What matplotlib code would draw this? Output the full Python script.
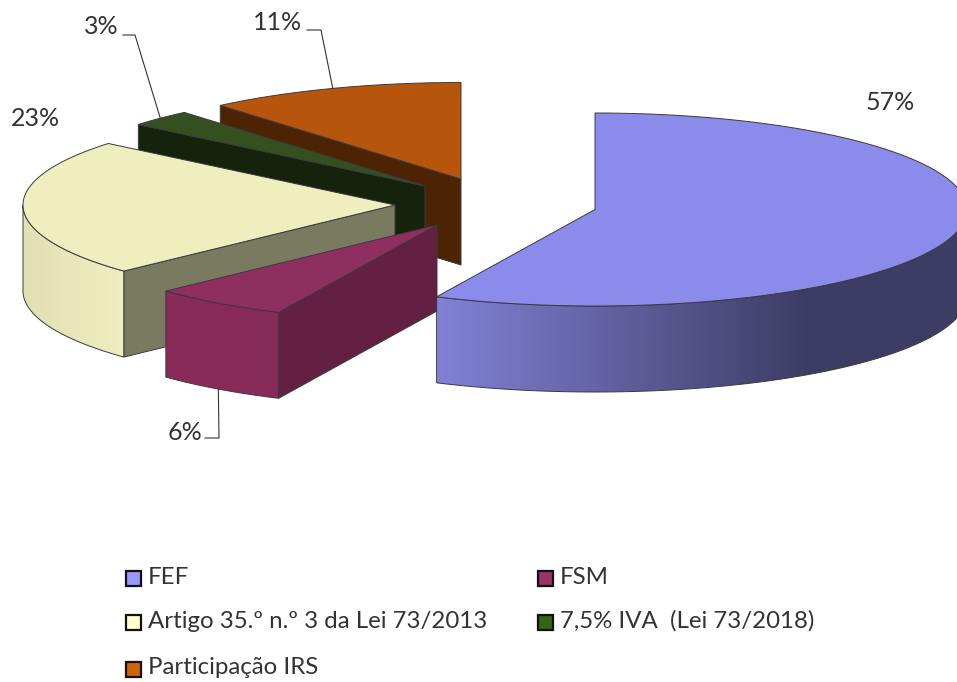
import numpy as np
import matplotlib
matplotlib.use('Agg')
import matplotlib.pyplot as plt
from matplotlib.patches import Polygon, Rectangle
from matplotlib.colors import LinearSegmentedColormap

labels = ['FEF', 'FSM', 'Artigo 35.º n.º 3 da Lei 73/2013', '7,5% IVA  (Lei 73/2018)', 'Participação IRS']
# labels show these rounded to whole percents
values = [57, 6, 23, 2.8, 11.2]

top_colors = ['#8b8beb', '#8f2f5f', '#eeeebf', '#35501f', '#b8550c']
legend_colors = ['#9999ff', '#993366', '#ffffcc', '#336614', '#cc6600']
radial_colors = ['#3c3c64', '#632042', '#7a7a60', '#15220c', '#4c2404']
# colours of the outer wall: left end, right end
wall_colors = [('#8181d6', '#3c3c64'), ('#8a2c5a', '#862a57'), ('#e0e0b3', '#eeeebf'),
               ('#15220c', '#15220c'), ('#4c2404', '#4c2404')]

# exploded centre of every slice, in pixels
centers = [(595, 209.5), (437, 225), (395, 205), (425, 186), (461, 179)]
RX = 372
RY = 96.5
DEPTH = 86
EDGE = '#3a3a40'

fig = plt.figure(figsize=(9.57, 6.82), dpi=100)
ax = fig.add_axes([0, 0, 1, 1])
plt.rcParams['font.family'] = ['Lato', 'DejaVu Sans']


def rim(center, a0, a1, n=120):
    # angles in degrees, clockwise from the top of the pie
    t = np.radians(np.linspace(a0, a1, n))
    return np.column_stack([center[0] + RX * np.sin(t), center[1] - RY * np.cos(t)])


def draw_wall(center, a0, a1, colors, z):
    a0 = max(a0, 90)
    a1 = min(a1, 270)
    if a1 <= a0:
        return
    arc = rim(center, a0, a1)
    pts = np.vstack([arc, (arc + [0, DEPTH])[::-1]])
    patch = Polygon(pts, closed=True, facecolor='none', edgecolor=EDGE, linewidth=0.7, zorder=z + 0.1)
    ax.add_patch(patch)
    x0, x1 = pts[:, 0].min(), pts[:, 0].max()
    y0, y1 = pts[:, 1].min(), pts[:, 1].max()
    # darkest part of the big slice sits at x=810, then stays flat
    cmap = LinearSegmentedColormap.from_list('wall', colors)
    xs = np.linspace(x0, x1, 256)
    if x1 > 810:
        g = np.clip((xs - x0) / (810 - x0), 0, 1)
    else:
        g = (xs - x0) / (x1 - x0)
    im = ax.imshow(g[np.newaxis, :], extent=(x0, x1, y1, y0), cmap=cmap, vmin=0, vmax=1,
                   aspect='auto', zorder=z)
    im.set_clip_path(patch)


# slices are painted back to front
stops = np.concatenate([[0], np.cumsum(values)]) / np.sum(values) * 360
mids = {}
for i in reversed(range(len(values))):
    a0, a1 = stops[i], stops[i + 1]
    c = np.array(centers[i], dtype=float)
    z = 2 + (len(values) - i) * 2
    mids[i] = rim(c, (a0 + a1) / 2, (a0 + a1) / 2, 1)[0]

    # radial wall on the start side, only when it faces the viewer
    if a0 > 180:
        p = rim(c, a0, a0, 1)[0]
        face = [c, p, p + [0, DEPTH], c + [0, DEPTH]]
        ax.add_patch(Polygon(face, closed=True, facecolor=radial_colors[i], edgecolor=EDGE,
                             linewidth=0.7, zorder=z))
    draw_wall(c, a0, a1, wall_colors[i], z)
    top = np.vstack([[c], rim(c, a0, a1)])
    ax.add_patch(Polygon(top, closed=True, facecolor=top_colors[i], edgecolor=EDGE,
                         linewidth=0.7, zorder=z + 0.5))

# value labels and leader lines
text_color = '#333333'
pct = ['%.0f%%' % v for v in values]
label_pos = [(890, 103), (185, 432), (35, 118), (101, 27), (278, 22)]
for i, (x, y) in enumerate(label_pos):
    ax.text(x, y, pct[i], fontsize=18, color=text_color, ha='center', va='center', zorder=30)

leader_ends = {1: (205, 438), 3: (123, 35), 4: (307, 30)}
for i, elbow_x in {1: 219, 3: 135, 4: 321}.items():
    sx, sy = leader_ends[i]
    mx, my = mids[i]
    if i == 1:
        my = my + DEPTH
    ax.plot([sx, elbow_x, mx], [sy, sy, my], color='#333333', linewidth=0.8, zorder=30)

# legend, filled row by row
legend_x = [126, 538]
legend_y = [578, 622, 669]
for i, name in enumerate(labels):
    col = i % 2
    row = i // 2
    ax.add_patch(Rectangle((legend_x[col], legend_y[row] - 7.5), 15, 15, facecolor=legend_colors[i],
                           edgecolor='#111111', linewidth=1.6, zorder=30))
    ax.text(legend_x[col] + 22, legend_y[row] - 1, name, fontsize=17.3, color=text_color,
            ha='left', va='center', zorder=30)

ax.set_xlim(0, 957)
ax.set_ylim(682, 0)
ax.axis('off')
fig.savefig('out.png', dpi=100)
